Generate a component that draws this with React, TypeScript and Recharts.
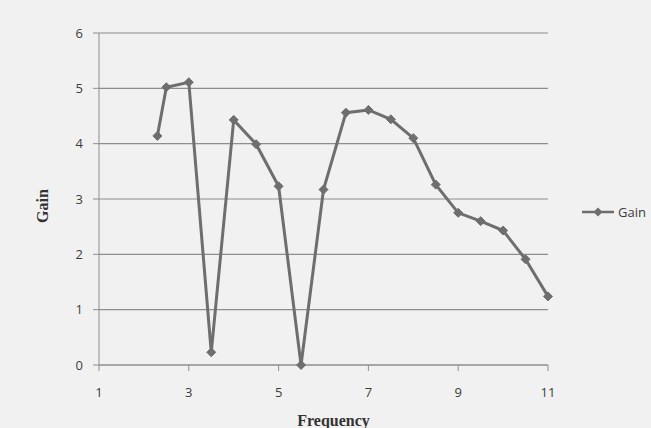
import React from 'react';
import { LineChart, Line, XAxis, YAxis, CartesianGrid, Legend, Label } from 'recharts';

const frequencies = [2.3, 2.5, 3, 3.5, 4, 4.5, 5, 5.5, 6, 6.5, 7, 7.5, 8, 8.5, 9, 9.5, 10, 10.5, 11];
const gains = [4.14, 5.02, 5.11, 0.23, 4.43, 3.99, 3.23, 0, 3.17, 4.56, 4.61, 4.44, 4.1, 3.26, 2.75, 2.6, 2.43, 1.91, 1.24];
const xTicks = [1, 3, 5, 7, 9, 11];
const yTicks = [0, 1, 2, 3, 4, 5, 6];

const data = frequencies.map((f, i) => ({ frequency: f, gain: gains[i] }));

const LINE = '#6e6e6e';
const GRID = '#8e8e8e';
const TEXT = '#3c3c3c';
const BG = '#f1f1f1';

const Diamond = (props: any) => {
  const { cx, cy } = props;
  if (cx == null || cy == null) return null;
  const r = 4.5;
  return (
    <path
      d={`M${cx},${cy - r}L${cx + r},${cy}L${cx},${cy + r}L${cx - r},${cy}Z`}
      fill={LINE}
      stroke={LINE}
      strokeWidth={1}
    />
  );
};

const LegendContent = () => (
  <svg width={75} height={20}>
    <line x1={4} y1={10} x2={36} y2={10} stroke={LINE} strokeWidth={2.5} />
    <path d="M20,5.5L24.5,10L20,14.5L15.5,10Z" fill={LINE} />
    <text x={40} y={14.5} fontFamily="'Open Sans', sans-serif" fontSize={13} fill={TEXT}>
      Gain
    </text>
  </svg>
);

export default function App() {
  return (
    <div style={{ position: 'absolute', left: 0, top: 0, width: 651, height: 428, background: BG }}>
      <LineChart
        width={651}
        height={428}
        data={data}
        margin={{ top: 33, right: 103, bottom: 0, left: 0 }}
      >
        <CartesianGrid horizontal={true} vertical={false} stroke={GRID} strokeWidth={1.2} />
        <XAxis
          dataKey="frequency"
          type="number"
          domain={[1, 11]}
          ticks={xTicks}
          height={63}
          stroke={GRID}
          tickSize={6}
          tickMargin={17}
          tick={{ fill: TEXT, fontSize: 13, fontFamily: "'Open Sans', sans-serif" }}
        >
          <Label
            value="Frequency"
            position="insideBottom"
            offset={2}
            dx={10}
            style={{ fontFamily: "'Liberation Serif', serif", fontWeight: 'bold', fontSize: 16, fill: '#333333' }}
          />
        </XAxis>
        <YAxis
          type="number"
          domain={[0, 6]}
          ticks={yTicks}
          width={99}
          stroke={GRID}
          tickSize={6}
          tickMargin={10}
          tick={{ fill: TEXT, fontSize: 13, fontFamily: "'Open Sans', sans-serif" }}
        >
          <Label
            value="Gain"
            angle={-90}
            position="insideLeft"
            offset={42}
            dy={7}
            style={{ fontFamily: "'Liberation Serif', serif", fontWeight: 'bold', fontSize: 16, fill: '#333333', textAnchor: 'middle' }}
          />
        </YAxis>
        <Legend
          layout="vertical"
          align="center"
          verticalAlign="middle"
          wrapperStyle={{ left: 578, top: 202, width: 75 }}
          content={<LegendContent />}
        />
        <Line
          type="linear"
          dataKey="gain"
          name="Gain"
          stroke={LINE}
          strokeWidth={3}
          dot={<Diamond />}
          activeDot={false}
          isAnimationActive={false}
        />
      </LineChart>
    </div>
  );
}
